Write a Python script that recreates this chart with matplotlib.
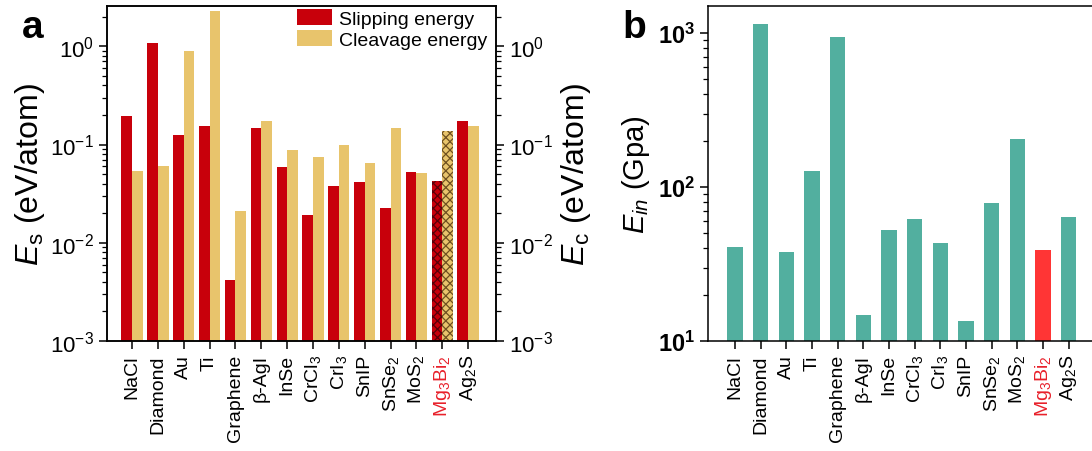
import numpy as np
import matplotlib
matplotlib.use("Agg")
import matplotlib.pyplot as plt
from matplotlib.ticker import LogLocator, FuncFormatter
from matplotlib.patches import Patch

plt.rcParams["font.family"] = ["Liberation Sans", "DejaVu Sans"]
plt.rcParams["mathtext.fontset"] = "custom"
plt.rcParams["mathtext.rm"] = "Liberation Sans"
plt.rcParams["mathtext.it"] = "Liberation Sans:italic"
plt.rcParams["mathtext.bf"] = "Liberation Sans:bold"
plt.rcParams["hatch.linewidth"] = 0.9
plt.rcParams["axes.linewidth"] = 1.1

# ---- data ----
materials = ["NaCl", "Diamond", "Au", "Ti", "Graphene", "β-AgI", "InSe",
             "CrCl$_3$", "CrI$_3$", "SnIP", "SnSe$_2$", "MoS$_2$",
             "Mg$_3$Bi$_2$", "Ag$_2$S"]
highlight = "Mg$_3$Bi$_2$"

slipping_energy = [0.195, 1.07, 0.126, 0.153, 0.0042, 0.148, 0.0597,
                   0.0193, 0.038, 0.042, 0.0228, 0.053, 0.043, 0.172]
cleavage_energy = [0.054, 0.060, 0.89, 2.27, 0.0212, 0.172, 0.087,
                   0.074, 0.100, 0.065, 0.149, 0.051, 0.136, 0.153]
in_plane_modulus = [40.8, 1143, 37.8, 127, 942, 14.7, 53, 62, 43, 13.5,
                    78.7, 205, 39, 64]

RED = "#C8000B"
GOLD = "#E8C46C"
TEAL = "#52AF9F"
HL_RED = "#FF3535"
LABEL_RED = "#E8202A"

fig = plt.figure(figsize=(10.92, 4.52), dpi=100)

x = np.arange(len(materials))
hl = materials.index(highlight)


def style_ticks(ax, bold=False):
    ax.tick_params(which="major", direction="out", length=6, width=1.1)
    ax.tick_params(which="minor", direction="out", length=3.5, width=0.9)


def color_labels(ax):
    for lbl in ax.get_xticklabels():
        if lbl.get_text() == highlight:
            lbl.set_color(LABEL_RED)


# ---- panel a: slipping / cleavage energies ----
axa = fig.add_axes([107 / 1092, 1 - 342 / 452, (496 - 107) / 1092, 335 / 452])
w = 0.41
bars_s = axa.bar(x - w / 2, slipping_energy, width=w, color=RED, linewidth=0)
bars_c = axa.bar(x + w / 2, cleavage_energy, width=w, color=GOLD, linewidth=0)
bars_s[hl].set_hatch("xxxx")
bars_s[hl].set_edgecolor("#5a0008")
bars_c[hl].set_hatch("xxxx")
bars_c[hl].set_edgecolor("#6e5020")

axa.set_yscale("log")
axa.set_ylim(1e-3, 2.57)
axa.set_xlim(-0.97, 14.08)
axa.set_xticks(x)
axa.set_xticklabels(materials, rotation=90, fontsize=14)
color_labels(axa)
axa.yaxis.set_major_locator(LogLocator(base=10, numticks=10))
axa.tick_params(axis="y", labelsize=16)
style_ticks(axa)
axa.set_ylabel(r"$E_{\mathrm{s}}$ (eV/atom)", fontsize=23, labelpad=2)

axa2 = axa.twinx()
axa2.set_yscale("log")
axa2.set_ylim(axa.get_ylim())
axa2.yaxis.set_major_locator(LogLocator(base=10, numticks=10))
axa2.tick_params(axis="y", labelsize=16)
style_ticks(axa2)
axa2.set_ylabel(r"$E_{\mathrm{c}}$ (eV/atom)", fontsize=23, labelpad=4)

handles = [Patch(facecolor=RED, label="Slipping energy"),
           Patch(facecolor=GOLD, label="Cleavage energy")]
axa.legend(handles=handles, loc="upper left", bbox_to_anchor=(0.488, 0.99),
           frameon=False, fontsize=14, handlelength=1.8, handleheight=0.9,
           handletextpad=0.35, labelspacing=0.1, borderpad=0.0,
           borderaxespad=0.0)

fig.text(22 / 1092, 1 - 38 / 452, "a", fontsize=28, fontweight="bold",
         ha="left", va="baseline")

# ---- panel b: in-plane stiffness ----
axb = fig.add_axes([708 / 1092, 1 - 342 / 452, (1097 - 708) / 1092, 335 / 452])
colors_b = [HL_RED if m == highlight else TEAL for m in materials]
axb.bar(x, in_plane_modulus, width=0.6, color=colors_b, linewidth=0)
axb.set_yscale("log")
axb.set_ylim(10, 1500)
axb.set_xlim(-1.05, 14.1)
axb.set_xticks(x)
axb.set_xticklabels(materials, rotation=90, fontsize=14)
color_labels(axb)
axb.yaxis.set_major_locator(LogLocator(base=10, numticks=10))
axb.yaxis.set_major_formatter(
    FuncFormatter(lambda v, pos: r"$\mathbf{10^{%d}}$" % round(np.log10(v))))
axb.tick_params(axis="y", labelsize=17)
style_ticks(axb)
axb.set_ylabel(r"$E_{in}$ (Gpa)", fontsize=21, labelpad=4)

fig.text(622 / 1092, 1 - 38 / 452, "b", fontsize=28, fontweight="bold",
         ha="left", va="baseline")

fig.savefig("out.png", dpi=100)
